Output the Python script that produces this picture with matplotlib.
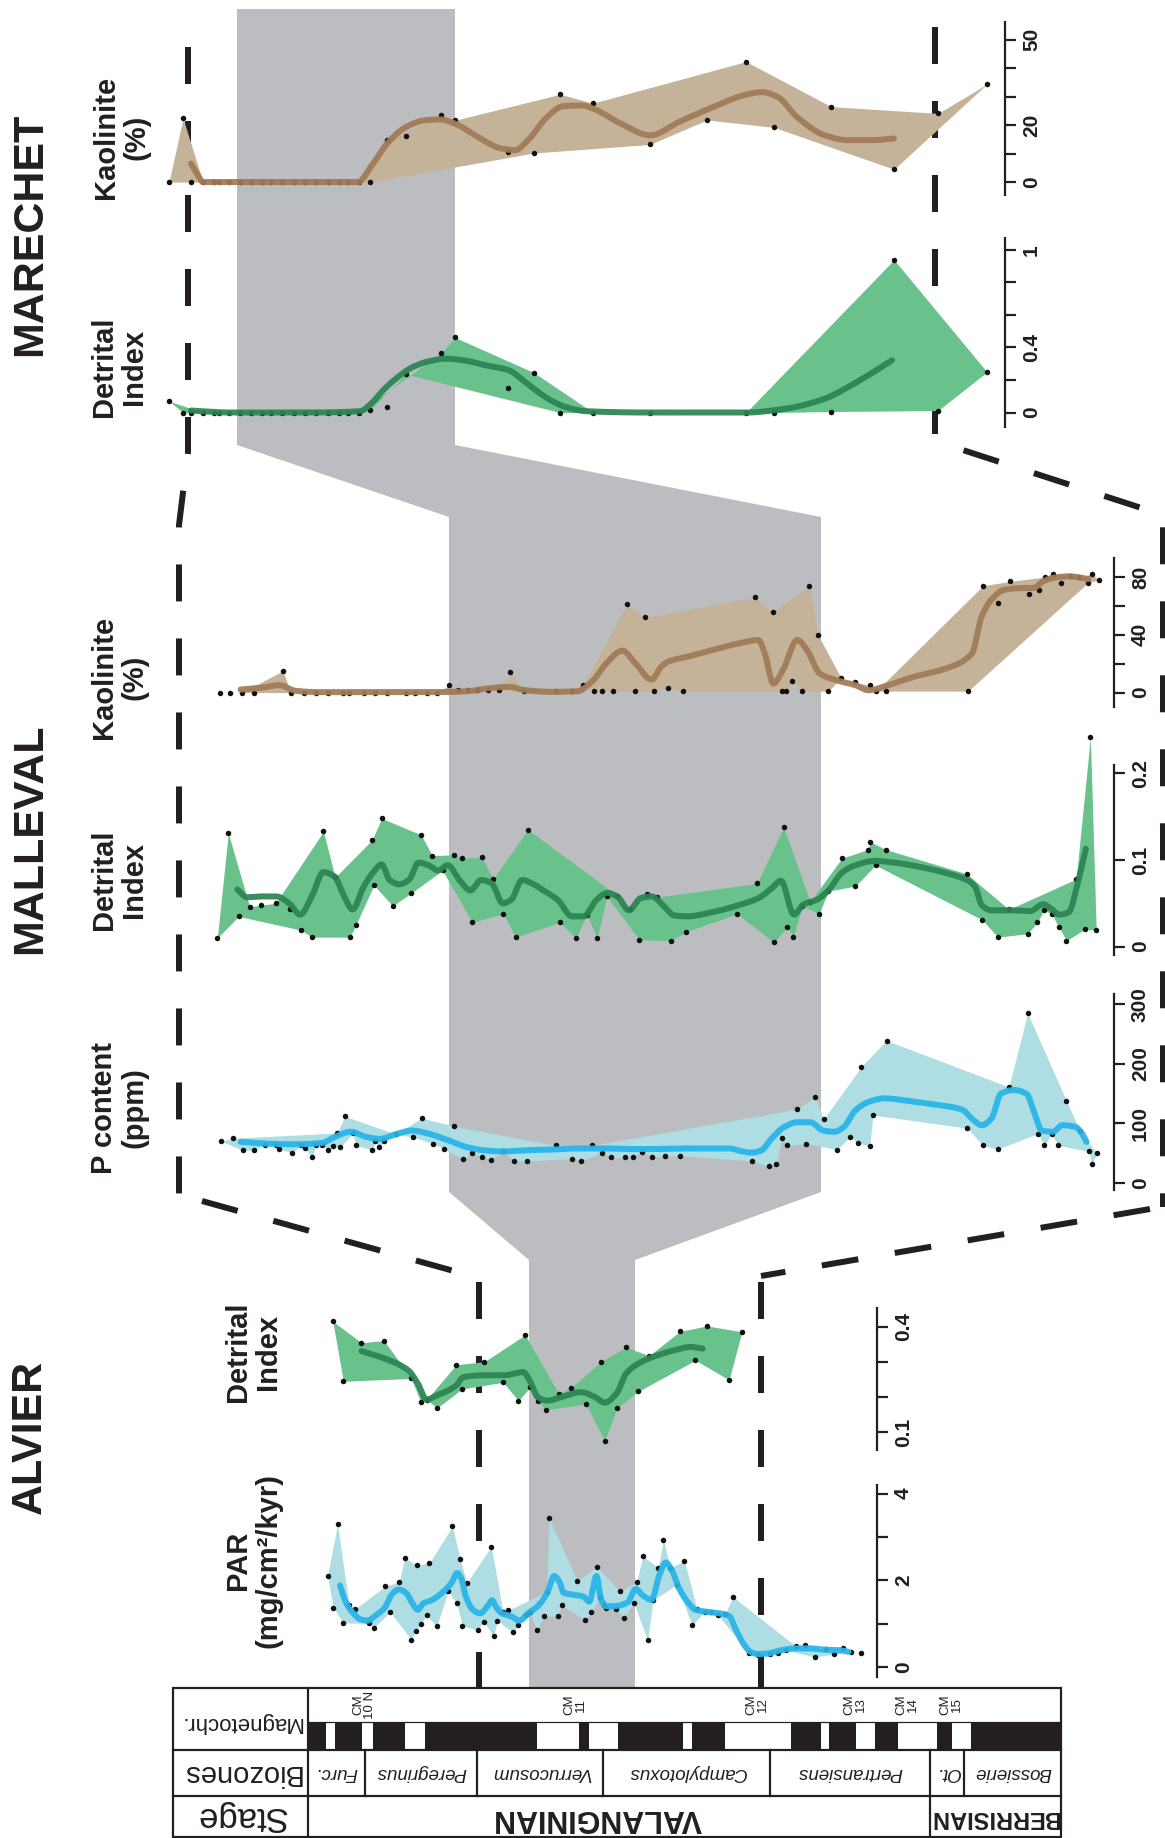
import numpy as np
import matplotlib
matplotlib.use("Agg")
import matplotlib.pyplot as plt
from matplotlib.patches import Polygon, Rectangle
from matplotlib.ticker import FixedLocator
from matplotlib.transforms import blended_transform_factory, offset_copy

# ======================= DATA =======================
# ---- ALVIER (depth in arbitrary section units) ----
alv_par_depth = [37.1, 38.3, 39.2, 40.4, 41.6, 42.9, 45.8, 46.8, 49.1, 50.2, 52.1, 53.2, 54.6, 55.5, 55.7, 56.6,
                 57.8, 58.4, 59.9, 62.3, 63.2, 64.1, 64.8, 65.3, 66.2, 68.5, 69.7, 71.3, 71.8, 72.6, 73.8, 74.9,
                 75.9, 76.9, 78.6, 79.4, 80.8, 82.4, 82.9, 83.4, 85.2, 86.0, 89.3, 90.9, 92.2, 93.4, 94.0, 94.8,
                 95.3, 97.4, 98.2, 99.1, 101.1, 101.7, 103.0, 104.0, 105.1, 106.2, 107.3, 108.7, 110.1, 111.7,
                 113.3, 114.3, 115.9, 117.3, 118.7, 120.2, 121.8, 125.1, 127.0, 129.6, 131.2, 133.0, 135.0, 136.8,
                 138.9, 141.2, 143.0, 144.9, 146.5, 148.5]
alv_par = [2.11, 1.37, 3.29, 1.02, 1.42, 1.34, 1.01, 0.91, 1.86, 1.27, 1.97, 2.52, 0.63, 0.82, 2.35, 1.00,
           1.19, 2.40, 0.94, 1.75, 3.25, 1.47, 2.49, 0.95, 1.94, 0.85, 1.05, 2.78, 0.71, 1.07, 1.27, 1.31,
           0.80, 0.98, 1.20, 1.27, 0.86, 1.17, 1.74, 3.43, 1.17, 1.43, 1.99, 1.09, 1.26, 2.31, 1.62, 1.42,
           1.37, 1.34, 1.75, 1.14, 1.48, 1.96, 2.56, 0.62, 1.54, 2.29, 2.94, 2.29, 1.90, 2.45,
           0.96, 1.34, 1.27, 1.27, 1.20, 1.22, 1.62, 0.33, 0.28, 0.30, 0.33, 0.39, 0.48, 0.50,
           0.23, 0.41, 0.30, 0.43, 0.35, 0.33]
alv_par_curve_depth = [39.7, 41.0, 42.5, 44.0, 45.5, 47.0, 49.0, 50.5, 52.0, 53.5, 54.8, 56.0, 57.0, 59.0, 61.0,
                       63.0, 64.2, 65.0, 66.0, 67.5, 69.0, 70.5, 71.5, 72.2, 73.5, 75.5, 77.2, 79.0, 81.0, 83.0,
                       84.5, 85.5, 86.5, 88.5, 90.5, 91.8, 93.3, 94.3, 95.5, 97.5, 99.8, 101.5, 103.0, 104.8,
                       106.5, 107.8, 109.0, 110.5, 112.5, 114.0, 116.0, 119.0, 121.0, 122.5, 124.0, 125.5, 127.0,
                       129.0, 132.0, 135.0, 138.0, 141.0, 144.0, 146.0]
alv_par_curve = [1.88, 1.48, 1.24, 1.10, 1.07, 1.18, 1.36, 1.67, 1.79, 1.71, 1.48, 1.32, 1.46, 1.55, 1.71,
                 1.94, 2.17, 2.06, 1.63, 1.32, 1.24, 1.40, 1.54, 1.41, 1.24, 1.17, 1.07, 1.24, 1.40, 1.71,
                 2.10, 1.98, 1.71, 1.67, 1.63, 1.51, 2.10, 1.55, 1.40, 1.41, 1.49, 1.80, 1.65, 1.55,
                 2.14, 2.41, 2.25, 1.83, 1.48, 1.32, 1.28, 1.24, 1.18, 0.85, 0.54, 0.35, 0.30,
                 0.31, 0.39, 0.43, 0.43, 0.40, 0.39, 0.35]
alv_di_depth = [38.2, 40.4, 44.2, 48.9, 54.6, 56.6, 57.8, 60.0, 64.0, 65.2, 69.9, 73.8, 77.0, 78.4, 79.5, 81.0,
                82.7, 85.4, 88.0, 91.1, 94.2, 95.0, 97.6, 99.5, 102.0, 104.3, 110.7, 114.0, 116.4, 121.0, 123.7]
alv_di = [0.416, 0.245, 0.355, 0.361, 0.253, 0.185, 0.193, 0.169, 0.292, 0.223, 0.301, 0.242, 0.190, 0.377,
          0.229, 0.190, 0.164, 0.210, 0.226, 0.180, 0.301, 0.076, 0.169, 0.342, 0.216, 0.318, 0.387, 0.305,
          0.403, 0.249, 0.386]
alv_di_curve_depth = [44.2, 49.0, 54.0, 56.0, 57.8, 60.0, 64.0, 65.5, 70.0, 74.0, 78.0, 79.5, 81.0, 83.0, 86.0,
                      90.0, 93.0, 95.0, 97.5, 99.5, 102.0, 106.0, 110.0, 113.0, 115.5]
alv_di_curve = [0.331, 0.310, 0.276, 0.238, 0.193, 0.205, 0.233, 0.257, 0.262, 0.262, 0.271, 0.243, 0.200,
                0.190, 0.200, 0.214, 0.200, 0.184, 0.210, 0.267, 0.295, 0.319, 0.335, 0.343, 0.338]

# ---- MALLEVAL ----
mal_p_depth = [11.0, 12.8, 14.3, 16.0, 17.7, 19.5, 20.0, 22.0, 23.4, 24.0, 25.0, 25.6, 26.6, 27.5, 28.2, 28.9,
               29.4, 30.1, 31.4, 31.8, 34.3, 34.8, 35.4, 36.2, 38.0, 40.6, 42.0, 43.8, 45.4, 47.0, 48.4, 49.8,
               51.3, 52.7, 54.6, 56.3, 58.3, 62.7, 65.2, 66.6, 68.3, 69.8, 71.3, 73.4, 74.6, 76.0, 77.6, 79.6,
               81.9, 93.0, 95.6, 96.8, 97.6, 98.5, 100.0, 101.4, 102.7, 104.1, 106.2, 108.2, 109.4, 109.9,
               111.2, 111.7, 113.8, 126.3, 128.7, 131.0, 132.7, 135.6, 137.2, 138.2, 139.3, 140.3, 141.6,
               143.7, 145.1, 145.5, 146.3]
mal_p = [70, 75, 55, 55, 64, 64, 57, 51, 63, 58, 43, 63, 64, 55, 62, 84, 60, 112, 84, 63, 56, 70, 60, 70,
         82, 77, 109, 66, 57, 95, 40, 50, 44, 39, 53, 37, 37, 63, 41, 37, 63, 51, 43, 43, 44, 52, 44, 45, 46,
         37, 28, 32, 75, 63, 124, 66, 144, 107, 56, 78, 67, 195, 62, 114, 239, 92, 63, 57, 161, 285, 83, 63,
         83, 63, 138, 87, 53, 32, 50]
mal_p_curve_depth = [14.0, 18.0, 22.0, 26.5, 28.5, 31.0, 33.5, 35.5, 38.0, 40.5, 43.0, 46.0, 49.0, 51.5, 54.5,
                     58.0, 62.0, 66.0, 70.0, 74.0, 78.0, 82.0, 86.0, 89.5, 91.5, 93.0, 94.5, 96.0, 98.0, 100.0,
                     102.0, 104.0, 105.8, 107.2, 109.0, 111.0, 113.5, 117.0, 121.0, 125.5, 127.0, 128.5, 130.0,
                     131.5, 133.5, 135.5, 136.5, 137.8, 139.5, 141.0, 143.0, 144.0, 144.7]
mal_p_curve = [69, 66, 65, 67, 77, 86, 77, 74, 82, 88, 83, 72, 60, 55, 53, 55, 56, 58, 58, 57, 57, 58, 58, 58,
               53, 51, 55, 74, 94, 102, 102, 88, 86, 94, 122, 136, 142, 138, 132, 123, 108, 97, 108, 150, 156,
               149, 122, 88, 86, 97, 94, 83, 69]
mal_di_depth = [10.4, 12.1, 13.7, 15.4, 17.2, 19.4, 21.6, 23.4, 25.0, 26.8, 28.6, 30.9, 31.8, 34.3, 34.6, 35.8,
                37.5, 40.4, 41.9, 43.6, 45.2, 47.0, 48.2, 49.8, 51.3, 53.0, 54.6, 56.5, 58.4, 63.3, 65.8, 67.5,
                69.1, 70.6, 72.2, 74.1, 75.6, 76.8, 78.3, 80.5, 82.8, 90.7, 93.8, 96.4, 97.9, 98.5, 99.4, 100.8,
                102.0, 103.4, 104.8, 106.9, 109.0, 110.9, 111.3, 112.1, 113.7, 126.2, 128.6, 131.0, 132.7,
                135.6, 137.1, 138.1, 139.3, 140.4, 141.6, 143.1, 144.4, 145.3, 146.2]
mal_di = [0.010, 0.131, 0.035, 0.046, 0.048, 0.050, 0.043, 0.019, 0.011, 0.133, 0.080, 0.011, 0.025, 0.123,
          0.071, 0.148, 0.047, 0.062, 0.129, 0.105, 0.088, 0.106, 0.102, 0.028, 0.103, 0.078, 0.038, 0.011,
          0.135, 0.028, 0.010, 0.037, 0.010, 0.058, 0.059, 0.043, 0.008, 0.061, 0.057, 0.007, 0.017, 0.038,
          0.073, 0.005, 0.138, 0.023, 0.011, 0.047, 0.052, 0.038, 0.064, 0.102, 0.070, 0.112, 0.121, 0.094,
          0.112, 0.084, 0.031, 0.011, 0.043, 0.015, 0.028, 0.042, 0.038, 0.023, 0.007, 0.078, 0.020, 0.242,
          0.019]
mal_di_curve_depth = [13.5, 15.0, 17.0, 19.5, 21.5, 23.2, 25.0, 26.8, 28.5, 30.0, 31.3, 33.0, 34.5, 35.8, 37.0,
                      38.5, 40.0, 41.5, 43.0, 44.5, 46.0, 47.8, 49.5, 51.2, 52.8, 54.5, 55.8, 57.5, 59.0, 61.2,
                      63.0, 65.2, 67.0, 69.0, 70.6, 72.2, 74.0, 75.8, 77.5, 79.5, 81.0, 83.0, 87.0, 91.0, 94.0,
                      96.0, 97.5, 99.5, 101.0, 103.0, 104.8, 107.0, 109.0, 112.0, 115.0, 119.0, 123.0, 126.2,
                      127.5, 128.5, 130.0, 133.0, 136.0, 138.0, 139.2, 140.5, 142.0, 143.2, 144.6]
mal_di_curve = [0.066, 0.057, 0.058, 0.058, 0.050, 0.037, 0.058, 0.086, 0.081, 0.058, 0.043, 0.069, 0.086,
                0.095, 0.077, 0.072, 0.077, 0.097, 0.094, 0.088, 0.094, 0.077, 0.065, 0.077, 0.073, 0.050,
                0.054, 0.077, 0.073, 0.063, 0.054, 0.035, 0.035, 0.054, 0.062, 0.058, 0.042, 0.056, 0.058,
                0.046, 0.036, 0.035, 0.040, 0.048, 0.056, 0.067, 0.076, 0.037, 0.049, 0.054, 0.065, 0.086,
                0.094, 0.099, 0.097, 0.092, 0.085, 0.077, 0.069, 0.048, 0.042, 0.042, 0.041, 0.049, 0.044,
                0.037, 0.040, 0.069, 0.113]
mal_k_depth = [10.8, 12.4, 14.2, 16.0, 20.5, 21.8, 23.8, 25.6, 27.5, 29.8, 30.7, 33.1, 34.8, 36.6, 39.5, 40.9,
               42.8, 44.3, 46.2, 47.6, 49.2, 50.6, 52.2, 54.0, 55.7, 57.8, 62.7, 65.2, 66.9, 68.6, 69.9, 71.6,
               73.7, 75.0, 76.5, 77.9, 80.1, 82.4, 93.5, 96.2, 97.6, 98.3, 99.2, 100.7, 101.9, 103.2, 104.8,
               106.8, 109.0, 111.2, 112.2, 113.7, 126.4, 128.7, 131.1, 132.9, 135.8, 137.3, 138.3, 139.5,
               140.7, 142.1, 143.5, 144.9, 145.6, 146.6]
mal_k = [0, 0, 0, 0, 15, 0, 0, 0, 0, 0, 0, 0, 0, 0, 0, 0, 0, 0, 5, 2, 2, 2, 2, 2, 14, 1, 1, 1, 5, 1, 1, 1,
         61, 1, 52, 1, 3, 1, 66, 56, 1, 1, 8, 1, 74, 40, 1, 10, 7, 5, 1, 1, 1, 74, 62, 77, 68, 71, 80, 82,
         76, 81, 80, 76, 82, 78]
mal_k_curve_depth = [14.0, 17.0, 20.0, 22.5, 26.0, 30.0, 35.0, 40.0, 45.0, 49.0, 52.0, 55.5, 58.0, 62.0, 66.0,
                     68.5, 70.5, 73.0, 75.0, 77.5, 79.0, 80.0, 83.0, 87.0, 91.0, 94.0, 95.0, 96.3, 97.8, 100.0,
                     101.5, 103.5, 106.0, 109.0, 111.0, 114.0, 118.0, 123.0, 127.0, 128.5, 130.0, 132.0, 135.0,
                     136.5, 138.0, 139.5, 142.0, 145.0]
mal_k_curve = [2.1, 3.2, 5.1, 1.2, 0.3, 0.3, 0.3, 0.3, 0.3, 0.9, 2.8, 3.9, 1.6, 0.5, 0.9, 8.6, 20.2, 29.0,
               20.2, 9.0, 17.9, 21.3, 24.8, 29.5, 34.1, 36.4, 27.1, 6.3, 15.5, 36.4, 29.5, 13.2, 8.6, 5.1, 1.6,
               5.1, 10.9, 16.7, 27.1, 52.7, 64.3, 71.2, 72.4, 72.4, 77.0, 79.4, 80.5, 78.6]

# ---- MARECHET ----
mar_k_depth = [16.9, 18.3, 19.1, 20.3, 21.4, 21.9, 22.9, 24.0, 25.1, 26.2, 27.1, 28.2, 29.4, 30.5, 31.6, 32.8,
               33.9, 34.8, 35.9, 37.0, 38.7, 40.6, 44.1, 45.5, 50.8, 53.4, 56.0, 59.3, 65.0, 70.7, 74.6, 77.4,
               83.1, 89.4, 93.8, 98.7]
mar_k = [0, 22.4, 0, 0, 0, 0, 0, 0, 0, 0, 0, 0, 0, 0, 0, 0, 0, 0, 0, 0, 14.7, 16.2, 23.4, 21.7, 10.5, 10.2,
         30.8, 27.7, 13.2, 21.8, 42.3, 19.2, 26.5, 4.5, 24.1, 34.4]
mar_k_curve_depth = [19.1, 19.7, 20.3, 23.0, 26.8, 30.6, 35.8, 37.1, 38.7, 40.6, 42.5, 44.0, 45.5, 47.8, 50.1,
                     51.5, 52.8, 54.7, 56.3, 58.2, 59.3, 62.1, 65.0, 67.9, 71.5, 74.6, 76.2, 77.8, 79.7, 82.5,
                     84.8, 87.2, 89.4]
mar_k_curve = [6.5, 3.0, 0, 0, 0, 0, 0, 5.4, 13.5, 19.3, 21.7, 22.0, 20.5, 15.8, 11.8, 11.2, 14.7, 22.8, 26.6,
               26.9, 25.8, 20.5, 16.4, 21.1, 26.6, 30.7, 31.6, 29.8, 22.8, 16.4, 14.7, 14.7, 15.3]
mar_di_depth = [16.9, 18.3, 19.1, 20.3, 21.4, 21.9, 22.9, 24.0, 25.1, 26.2, 27.1, 28.2, 29.4, 30.5, 31.6, 32.8,
                33.9, 34.8, 35.9, 37.0, 38.7, 40.6, 44.1, 45.5, 50.8, 53.4, 56.0, 59.3, 65.0, 74.6, 77.4, 83.1,
                89.4, 93.8, 98.7]
mar_di = [0.07, 0, 0, 0, 0, 0, 0, 0, 0, 0, 0, 0, 0, 0, 0, 0, 0, 0, 0, 0.017, 0.033, 0.236, 0.366, 0.461,
          0.148, 0.245, 0, 0, 0, 0, 0, 0.006, 0.938, 0.012, 0.249]
mar_di_curve_depth = [19.1, 23.0, 26.8, 30.6, 36.0, 37.1, 38.3, 39.8, 41.3, 42.9, 44.6, 46.3, 48.6, 50.9, 52.1,
                      53.6, 55.1, 56.6, 58.6, 64.8, 70.7, 74.6, 78.5, 82.5, 84.8, 87.2, 89.2]
mar_di_curve = [0.012, 0, 0, 0, 0.008, 0.054, 0.136, 0.218, 0.28, 0.315, 0.331, 0.321, 0.29, 0.259, 0.208,
                0.136, 0.074, 0.033, 0.008, 0, 0, 0, 0.023, 0.085, 0.156, 0.243, 0.321]

# envelope membership read from the picture where it differs from "above/below the smooth line"
# ('u' = on upper edge only, 'l' = lower edge only, 'i' = inside the band)
mal_di_env = {15.4: 'u', 17.2: 'u', 19.4: 'u', 21.6: 'i'}
mal_k_env = {131.1: 'i', 135.8: 'i', 137.3: 'i', 140.7: 'i', 142.1: 'u', 143.5: 'u'}
mar_k_env = {40.6: 'i', 50.8: 'i'}
mar_di_env = {38.7: 'i', 50.8: 'i'}

# ---- Stratigraphic column (positions along the column) ----
chron_normal = [(17.5, 27.4), (53.9, 64.7), (97.1, 117.2), (229.2, 271.0), (281.3, 310.3), (375.1, 384.0),
                (416.9, 483.2), (512.6, 521.0), (548.0, 567.2), (590.2, 629.0), (644.3, 663.0)]
chron_labels = ['CM\n10 N', 'CM\n11', 'CM\n12', 'CM\n13', 'CM\n14', 'CM\n15']
chron_label_pos = [56, 267, 449, 547, 599, 643]
biozone_edges = [0, 57, 169, 295, 462, 622, 656, 753]
biozone_names = ['Furc.', 'Peregrinus', 'Verrucosum', 'Campylotoxus', 'Pertransiens', 'Ot.', 'Bossierie']
stage_edges = [0, 622, 753]
stage_names = ['VALANGINIAN', 'BERRISIAN']
stage_label_pos = [289, 686]

# ======================= STYLE =======================
plt.rcParams['font.family'] = ['Liberation Sans', 'DejaVu Sans']
plt.rcParams['lines.scale_dashes'] = False
INK = '#231f20'
GRAY = '#bcbdc0'
GREEN_FILL, GREEN_LINE = '#69c28b', '#2b8451'
BLUE_FILL, BLUE_LINE = '#aedde3', '#27b4e9'
BEIGE_FILL, BROWN_LINE = '#c5b399', '#a17a55'

W, H, DPI = 1165, 1838, 100
PX = 72.0 / DPI  # points per pixel
fig = plt.figure(figsize=(W / DPI, H / DPI), dpi=DPI)
fig.patch.set_facecolor('white')
bg = fig.add_axes([0, 0, 1, 1], zorder=0)
bg.set_xlim(0, W)
bg.set_ylim(H, 0)
bg.axis('off')


def pchip(cx, cy, n=14):
    cx = np.asarray(cx, float)
    cy = np.asarray(cy, float)
    h = np.diff(cx)
    d = np.diff(cy) / h
    m = np.zeros_like(cy)
    m[0], m[-1] = d[0], d[-1]
    for k in range(1, len(cx) - 1):
        if d[k - 1] * d[k] > 0:
            w1 = 2 * h[k] + h[k - 1]
            w2 = h[k] + 2 * h[k - 1]
            m[k] = (w1 + w2) / (w1 / d[k - 1] + w2 / d[k])
    xs, ys = [], []
    t = np.linspace(0, 1, n, endpoint=False)
    h00 = 2 * t ** 3 - 3 * t ** 2 + 1
    h10 = t ** 3 - 2 * t ** 2 + t
    h01 = -2 * t ** 3 + 3 * t ** 2
    h11 = t ** 3 - t ** 2
    for i in range(len(cx) - 1):
        xs.append(cx[i] + t * h[i])
        ys.append(h00 * cy[i] + h10 * h[i] * m[i] + h01 * cy[i + 1] + h11 * h[i] * m[i + 1])
    xs.append([cx[-1]])
    ys.append([cy[-1]])
    return np.concatenate(xs), np.concatenate(ys)


def panel(x0, x1, y0, y1, xlim, ylim, ticks, ticklabels):
    ax = fig.add_axes([x0 / W, 1 - y1 / H, (x1 - x0) / W, (y1 - y0) / H], zorder=3)
    ax.set_facecolor('none')
    ax.set_xlim(*xlim)
    ax.set_ylim(*ylim)
    for s in ('top', 'left', 'bottom'):
        ax.spines[s].set_visible(False)
    ax.spines['right'].set_linewidth(2.2 * PX)
    ax.spines['right'].set_color(INK)
    ax.xaxis.set_visible(False)
    ax.yaxis.tick_right()
    ax.yaxis.set_major_locator(FixedLocator(ticks))
    ax.tick_params(axis='y', which='both', direction='out', length=10.5 * PX, width=2.2 * PX,
                   labelright=False, labelleft=False, colors=INK)
    trans = offset_copy(blended_transform_factory(ax.transAxes, ax.transData), fig=fig,
                        x=17 * PX, y=0, units='points')
    for v, s in zip(ticks, ticklabels):
        if s:
            ax.text(1.0, v, s, transform=trans, rotation=90, ha='left', va='center',
                    fontsize=15, fontweight='bold', color=INK, clip_on=False)
    return ax


def draw_series(ax, px, py, cx, cy, fill, line, tol=0.0, env=None):
    px = np.asarray(px, float)
    py = np.asarray(py, float)
    c = np.interp(px, cx, cy)
    up = py >= c - tol
    lo = py <= c + tol
    if env:
        for dep, flag in env.items():
            k = int(np.argmin(np.abs(px - dep)))
            up[k] = flag == 'u'
            lo[k] = flag == 'l'
    up[[0, -1]] = True
    lo[[0, -1]] = True
    grid = np.union1d(np.linspace(px[0], px[-1], 3000), px)
    u = np.interp(grid, px[up], py[up])
    l = np.interp(grid, px[lo], py[lo])
    ax.fill_between(grid, l, u, color=fill, lw=0, zorder=1, clip_on=False)
    ax.plot(px, py, 'o', ms=5.5 * PX, color='#111111', mec='none', zorder=2, clip_on=False)
    sx, sy = pchip(cx, cy)
    ax.plot(sx, sy, color=line, lw=6 * PX, solid_capstyle='round', zorder=3, clip_on=False, alpha=0.93)


# ======================= BACKGROUND: gray band =======================
band = Polygon([(237, 9), (455, 9), (455, 445), (821, 517), (821, 1192), (635, 1260), (635, 1688),
                (529, 1688), (529, 1260), (449, 1192), (449, 517), (237, 445)],
               closed=True, fc=GRAY, ec='none', zorder=1)
bg.add_patch(band)

# ======================= dashed correlation lines =======================
DASH = (0, (37 * PX, 37 * PX))
dkw = dict(color=INK, lw=6 * PX, ls=DASH, dash_capstyle='butt', zorder=2)
bg.plot([188, 188, 179, 179], [47, 452, 525, 1196], **dkw)
bg.plot([202, 479], [1201, 1278], **dkw)
bg.plot([479, 479], [1282, 1688], **dkw)
bg.plot([935, 935, 1163, 1163], [27, 441, 515, 1207], **dkw)
bg.plot([1150, 761], [1209, 1276], **dkw)
bg.plot([761, 761], [1282, 1688], **dkw)

# ======================= section titles and panel labels =======================
tkw = dict(rotation=90, ha='center', va='center', fontweight='bold', color=INK)
bg.text(30, 234, 'MARECHET', fontsize=31, **tkw)
bg.text(30, 839, 'MALLEVAL', fontsize=31, **tkw)
bg.text(30, 1437, 'ALVIER', fontsize=31, **tkw)
lkw = dict(tkw, fontsize=21, multialignment='center', linespacing=1.1)
bg.text(121, 137, 'Kaolinite\n(%)', **lkw)
bg.text(119, 367, 'Detrital\nIndex', **lkw)
bg.text(119, 677, 'Kaolinite\n(%)', **lkw)
bg.text(119, 880, 'Detrital\nIndex', **lkw)
bg.text(119, 1108, 'P content\n(ppm)', **lkw)
bg.text(253, 1352, 'Detrital\nIndex', **lkw)
bg.text(253, 1560, 'PAR\n(mg/cm²/kyr)', **lkw)

# ======================= DATA PANELS =======================
# Marechet
mx = (15.0, 100.5)
ax = panel(150, 1005, 22, 195, mx, (-4.55, 56.2), [0, 10, 20, 30, 40, 50], ['0', '', '20', '', '', '50'])
draw_series(ax, mar_k_depth, mar_k, mar_k_curve_depth, mar_k_curve, BEIGE_FILL, BROWN_LINE, tol=0.5, env=mar_k_env)
ax = panel(150, 1005, 238, 427, mx, (-0.089, 1.072), [0, 0.2, 0.4, 0.6, 0.8, 1.0], ['0', '', '0.4', '', '', '1'])
draw_series(ax, mar_di_depth, mar_di, mar_di_curve_depth, mar_di_curve, GREEN_FILL, GREEN_LINE, tol=0.01,
            env=mar_di_env)

# Malleval
lx = ((200 - 150) / 6.472, (1114 - 150) / 6.472)
ax = panel(200, 1114, 558, 707, lx, (-10.0, 93.2), [0, 20, 40, 60, 80], ['0', '', '40', '', '80'])
draw_series(ax, mal_k_depth, mal_k, mal_k_curve_depth, mal_k_curve, BEIGE_FILL, BROWN_LINE, tol=2.5, env=mal_k_env)
ax = panel(200, 1114, 765, 955, lx, (-0.0096, 0.2096), [0, 0.1, 0.2], ['0', '0.1', '0.2'])
draw_series(ax, mal_di_depth, mal_di, mal_di_curve_depth, mal_di_curve, GREEN_FILL, GREEN_LINE, env=mal_di_env)
ax = panel(200, 1114, 994, 1190, lx, (-11.7, 317), [0, 100, 200, 300], ['0', '100', '200', '300'])
draw_series(ax, mal_p_depth, mal_p, mal_p_curve_depth, mal_p_curve, BLUE_FILL, BLUE_LINE)

# Alvier
avx = ((300 - 150) / 4.785, (877 - 150) / 4.785)
ax = panel(300, 877, 1308, 1450, avx, (0.049, 0.454), [0.1, 0.2, 0.3, 0.4], ['0.1', '', '', '0.4'])
draw_series(ax, alv_di_depth, alv_di, alv_di_curve_depth, alv_di_curve, GREEN_FILL, GREEN_LINE)
ax = panel(300, 877, 1485, 1677, avx, (-0.23, 4.2), [0, 1, 2, 3, 4], ['0', '', '2', '', '4'])
draw_series(ax, alv_par_depth, alv_par, alv_par_curve_depth, alv_par_curve, BLUE_FILL, BLUE_LINE)

# ======================= STRATIGRAPHIC COLUMN =======================
LX0, CX0, CX1 = 173, 308, 1061
TOP, BAR, R1, R2, BOT = 1688, 1722, 1750, 1796, 1837
lw_box = 2.2 * PX
bg.add_patch(Rectangle((LX0, TOP), CX1 - LX0, BOT - TOP, fc='white', ec=INK, lw=lw_box, zorder=5))
bg.add_patch(Rectangle((CX0, BAR), CX1 - CX0, R1 - BAR, fc=INK, ec='none', zorder=6))
for a, b in chron_normal:
    bg.add_patch(Rectangle((CX0 + a, BAR), b - a, R1 - BAR, fc='white', ec='none', zorder=7))
bg.plot([CX0, CX1], [BAR, BAR], color=INK, lw=1.2 * PX, zorder=8)
bg.plot([LX0, CX1], [R1, R1], color=INK, lw=lw_box, zorder=8)
bg.plot([LX0, CX1], [R2, R2], color=INK, lw=lw_box, zorder=8)
bg.plot([CX0, CX0], [TOP, BOT], color=INK, lw=lw_box, zorder=8)
for e in biozone_edges[1:-1]:
    bg.plot([CX0 + e, CX0 + e], [R1, R2], color=INK, lw=lw_box, zorder=8)
for e in stage_edges[1:-1]:
    bg.plot([CX0 + e, CX0 + e], [R2, BOT], color=INK, lw=lw_box, zorder=8)
for name, a, b in zip(biozone_names, biozone_edges[:-1], biozone_edges[1:]):
    bg.text(CX0 + (a + b) / 2, (R1 + R2) / 2, name, rotation=180, ha='center', va='center',
            style='italic', fontsize=13.5, color=INK, zorder=9)
for name, p in zip(stage_names, stage_label_pos):
    bg.text(CX0 + p, (R2 + BOT) / 2 + 1, name, rotation=180, ha='center', va='center',
            fontweight='bold', fontsize=22 if len(name) > 10 else 17, color=INK, zorder=9)
for lab, p in zip(chron_labels, chron_label_pos):
    bg.text(CX0 + p, (TOP + BAR) / 2, lab, rotation=90, ha='center', va='center',
            fontsize=9.5, linespacing=1.0, color=INK, zorder=9)
bg.text((LX0 + CX0) / 2, (TOP + R1) / 2 + 4, 'Magnetochr.', rotation=180, ha='center', va='center',
        fontsize=16, color=INK, zorder=9)
bg.text((LX0 + CX0) / 2, (R1 + R2) / 2, 'Biozones', rotation=180, ha='center', va='center',
        fontsize=21, color=INK, zorder=9)
bg.text((LX0 + CX0) / 2, (R2 + BOT) / 2, 'Stage', rotation=180, ha='center', va='center',
        fontsize=25, color=INK, zorder=9)

fig.savefig('out.png', dpi=DPI, facecolor='white')
